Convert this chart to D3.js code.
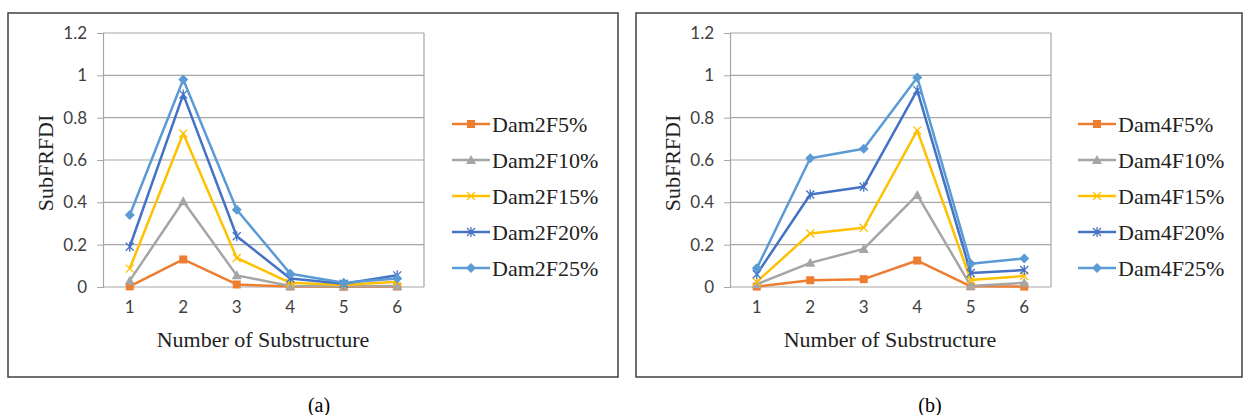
<!DOCTYPE html>
<html>
<head>
<meta charset="utf-8">
<script src="https://cdn.jsdelivr.net/npm/d3@7"></script>
<style>
  body { margin: 0; background: #fff; }
  svg { display: block; }
  .tick text { font-family: Lato, "Open Sans", sans-serif; font-size: 17px; fill: #404040; }
  .serif { font-family: "Times New Roman", "Liberation Serif", Tinos, serif; }
</style>
</head>
<body>
<svg id="chart" width="1244" height="415"></svg>
<script>
let substructures = [1, 2, 3, 4, 5, 6];
let yTicks = [0, 0.2, 0.4, 0.6, 0.8, 1, 1.2];
let levels = ["5%", "10%", "15%", "20%", "25%"];

// panel (a): damage at substructure 2
let dam2F5 = [0.003, 0.13, 0.012, 0.002, 0.001, 0.002];
let dam2F10 = [0.03, 0.405, 0.055, 0.005, 0.003, 0.005];
let dam2F15 = [0.087, 0.725, 0.137, 0.02, 0.01, 0.025];
let dam2F20 = [0.19, 0.91, 0.24, 0.04, 0.015, 0.055];
let dam2F25 = [0.34, 0.98, 0.365, 0.063, 0.02, 0.04];

// panel (b): damage at substructure 4
let dam4F5 = [0.002, 0.032, 0.037, 0.125, 0.003, 0.002];
let dam4F10 = [0.013, 0.114, 0.18, 0.435, 0.005, 0.02];
let dam4F15 = [0.024, 0.253, 0.28, 0.74, 0.033, 0.052];
let dam4F20 = [0.06, 0.437, 0.474, 0.93, 0.066, 0.08];
let dam4F25 = [0.088, 0.608, 0.653, 0.99, 0.11, 0.135];

let colors = ["#ED7D31", "#A5A5A5", "#FFC000", "#4472C4", "#5B9BD5"];
let markers = ["square", "triangle", "cross", "asterisk", "diamond"];

let svg = d3.select("#chart");

let drawMarker = (g, type, color) => {
  if (type === "square") {
    g.append("rect").attr("x", -4).attr("y", -4).attr("width", 8).attr("height", 8).attr("fill", color);
  } else if (type === "triangle") {
    g.append("path").attr("d", "M0,-5L5,4L-5,4Z").attr("fill", color);
  } else if (type === "cross") {
    g.append("path").attr("d", "M-4,-4L4,4M-4,4L4,-4").attr("stroke", color).attr("stroke-width", 1.3);
  } else if (type === "asterisk") {
    g.append("path").attr("d", "M-4,-4L4,4M-4,4L4,-4M0,-5L0,5").attr("stroke", color).attr("stroke-width", 1.3);
  } else {
    g.append("path").attr("d", "M0,-5L5,0L0,5L-5,0Z").attr("fill", color);
  }
};

let drawPanel = (p) => {
  let panel = svg.append("g");

  panel.append("rect")
    .attr("x", p.box[0]).attr("y", p.box[1])
    .attr("width", p.box[2]).attr("height", p.box[3])
    .attr("fill", "white").attr("stroke", "#404040").attr("stroke-width", 1.5);

  let xScale = d3.scaleBand().domain(substructures).range([p.left, p.left + 321]);
  let yScale = d3.scaleLinear().domain([0, 1.2]).range([p.bottom, 33]);

  // gridlines
  panel.append("g")
    .selectAll("line")
    .data(yTicks)
    .enter()
    .append("line")
    .attr("x1", p.left).attr("x2", p.left + 321)
    .attr("y1", (d) => yScale(d)).attr("y2", (d) => yScale(d))
    .attr("stroke", "#a6a6a6").attr("stroke-width", 1.2);

  panel.append("line")
    .attr("x1", p.left + 321).attr("x2", p.left + 321)
    .attr("y1", yScale(1.2)).attr("y2", yScale(0))
    .attr("stroke", "#a6a6a6").attr("stroke-width", 1.2);

  let yAxis = d3.axisLeft(yScale).tickValues(yTicks).tickSize(6).tickPadding(10)
    .tickFormat((d) => d3.format("~g")(d));
  let gy = panel.append("g").attr("transform", "translate(" + p.left + ",0)").call(yAxis);
  gy.select(".domain").attr("stroke", "#a6a6a6").attr("stroke-width", 1.2);
  gy.selectAll(".tick line").attr("stroke", "#a6a6a6");

  let xAxis = d3.axisBottom(xScale).tickSize(0).tickPadding(14);
  let gx = panel.append("g").attr("transform", "translate(0," + p.bottom + ")").call(xAxis);
  gx.select(".domain").remove();

  let line = d3.line()
    .x((d, i) => xScale(substructures[i]) + xScale.bandwidth() / 2)
    .y((d) => yScale(d));

  p.series.forEach((values, s) => {
    panel.append("path")
      .datum(values)
      .attr("d", line)
      .attr("fill", "none")
      .attr("stroke", colors[s])
      .attr("stroke-width", 2.5)
      .attr("stroke-linejoin", "round");

    values.forEach((v, i) => {
      let m = panel.append("g")
        .attr("transform", "translate(" + (xScale(substructures[i]) + xScale.bandwidth() / 2) + "," + yScale(v) + ")");
      drawMarker(m, markers[s], colors[s]);
    });
  });

  // axis titles
  panel.append("text")
    .attr("class", "serif")
    .attr("x", p.left + 160).attr("y", 347)
    .attr("text-anchor", "middle")
    .attr("font-size", 22)
    .attr("fill", "#222")
    .text("Number of Substructure");

  panel.append("text")
    .attr("class", "serif")
    .attr("transform", "translate(" + (p.left - 50) + ",163) rotate(-90)")
    .attr("text-anchor", "middle")
    .attr("font-size", 22)
    .attr("fill", "#222")
    .text("SubFRFDI");

  // legend
  let legend = panel.append("g")
    .selectAll("g")
    .data(levels)
    .enter()
    .append("g")
    .attr("transform", (d, i) => "translate(" + p.legendX + "," + (124 + i * 36) + ")");

  legend.append("line")
    .attr("x1", 0).attr("x2", 38)
    .attr("stroke", (d, i) => colors[i])
    .attr("stroke-width", 2.5);

  legend.each(function (d, i) {
    let m = d3.select(this).append("g").attr("transform", "translate(19,0)");
    drawMarker(m, markers[i], colors[i]);
  });

  legend.append("text")
    .attr("class", "serif")
    .attr("x", 40)
    .attr("dy", "0.35em")
    .attr("font-size", 22)
    .attr("fill", "#222")
    .text((d) => p.prefix + d);

  svg.append("text")
    .attr("class", "serif")
    .attr("x", p.captionX).attr("y", 412)
    .attr("text-anchor", "middle")
    .attr("font-size", 20)
    .text(p.caption);
};

drawPanel({
  box: [8, 13, 610, 364],
  left: 103,
  bottom: 287,
  legendX: 452,
  prefix: "Dam2F",
  caption: "(a)",
  captionX: 319,
  series: [dam2F5, dam2F10, dam2F15, dam2F20, dam2F25]
});

drawPanel({
  box: [636, 13, 606, 364],
  left: 730,
  bottom: 287,
  legendX: 1078,
  prefix: "Dam4F",
  caption: "(b)",
  captionX: 930,
  series: [dam4F5, dam4F10, dam4F15, dam4F20, dam4F25]
});
</script>
</body>
</html>
